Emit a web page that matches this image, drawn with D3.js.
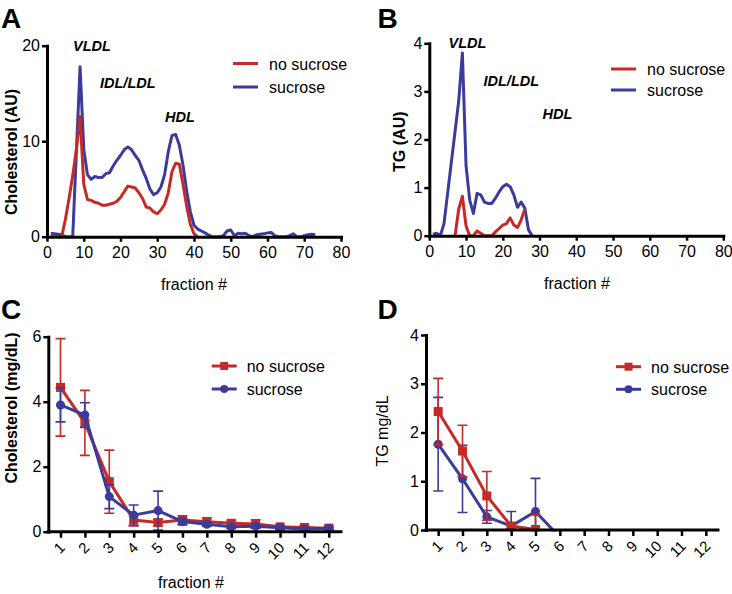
<!DOCTYPE html>
<html><head><meta charset="utf-8">
<script src="https://cdn.jsdelivr.net/npm/d3@7"></script>
<style>
body{margin:0;background:#fff;}
svg{display:block;font-family:"Liberation Sans",Arial,Helvetica,sans-serif;}
</style></head><body>
<svg id="chart" width="732" height="594"></svg>
<script>
// ---------- DATA ----------
// Panel A: cholesterol FPLC profile (AU)
const fracA_noSuc = d3.range(1, 42);
const cholA_noSuc = [0.1,0.05,0,0,1.8,4.0,6.4,9.2,12.6,5.5,3.9,3.8,3.6,3.5,3.3,3.3,3.4,3.5,3.7,4.1,4.7,5.3,5.2,5.1,4.6,4.0,3.1,3.0,2.6,2.4,2.8,3.4,4.6,6.8,7.7,7.6,5.5,3.2,1.3,0.3,0];
const fracA_suc = d3.range(1, 74);
const cholA_suc = [0.35,0.3,0.25,0.2,0,0,0,8.9,17.8,9.2,6.5,6.0,6.3,6.2,6.2,6.6,6.7,7.4,8.0,8.5,9.1,9.4,9.1,8.5,8.0,7.0,6.1,5.0,4.4,4.6,5.2,6.5,8.9,10.6,10.7,9.6,7.5,4.8,2.6,1.2,0.8,0.6,0.4,0.15,0,0,0,0.1,0.6,0.7,0.1,0.35,0.3,0.35,0.1,0,0.2,0.25,0.3,0.4,0.45,0.1,0,0,0,0.1,0.3,0,0,0.1,0.2,0.25,0.2];

// Panel B: TG FPLC profile (AU)
const fracB_noSuc = d3.range(7, 27);
const tgB_noSuc = [0,0.55,0.82,0.2,0,0,0.1,0.05,0,0,0,0.08,0.15,0.22,0.25,0.37,0.22,0.17,0.33,0.55];
const fracB_suc = d3.range(1, 29);
const tgB_suc = [0.03,0.05,0,0.25,0.89,1.53,2.16,2.8,3.8,1.45,0.74,0.46,0.88,0.85,0.7,0.67,0.67,0.78,0.91,1.02,1.07,1.02,0.85,0.59,0.7,0.57,0.12,0];

// Panels C & D: pooled fractions
const fractionCats = ["1","2","3","4","5","6","7","8","9","10","11","12"];
const cholC_noSuc    = [4.44,3.35,1.54,0.36,0.28,0.36,0.31,0.26,0.24,0.15,0.13,0.11];
const cholC_noSucErr = [1.5,1.0,0.97,0.18,0.1,0.13,0.12,0.07,0.13,0.05,0.05,0.05];
const cholC_suc      = [3.9,3.59,1.08,0.51,0.65,0.31,0.23,0.15,0.17,0.12,0.08,0.1];
const cholC_sucErr   = [0.52,0.38,0.37,0.31,0.6,0.1,0.06,0.05,0.06,0.04,0.04,0.03];

const tgD_noSuc    = [2.43,1.62,0.70,0.08,0.01];
const tgD_noSucErr = [0.68,0.53,0.5,0.05,0.3];
const tgD_suc      = [1.76,1.05,0.27,0.08,0.38,-0.15];
const tgD_sucErr   = [0.96,0.69,0.13,0.3,0.68,0];

const ticksA = [0,10,20], ticksB = [0,1,2,3,4], ticksC = [0,2,4,6], ticksD = [0,1,2,3,4];
const ticksX = [0,10,20,30,40,50,60,70,80];
const seriesNames = ["no sucrose","sucrose"];

// ---------- STYLE ----------
const RED = "#c62a26", BLUE = "#3b3b9b";
const FONT = "Liberation Sans, Arial, Helvetica, sans-serif";
const fmt = d3.format("d");
const svg = d3.select("#chart");

function styleAxis(g, fs){
  g.attr("font-family", FONT).attr("font-size", fs);
  g.select(".domain").attr("stroke","#000").attr("stroke-width",3).attr("stroke-linecap","square");
  g.selectAll(".tick line").attr("stroke","#000").attr("stroke-width",2.5);
  g.selectAll(".tick text").attr("fill","#000");
}

function text(x, y, s, opts){
  const t = svg.append("text").attr("x",x).attr("y",y).text(s).attr("fill","#000")
    .attr("font-size", opts.size || 16);
  if (opts.weight) t.attr("font-weight", opts.weight);
  if (opts.style) t.attr("font-style", opts.style);
  if (opts.anchor) t.attr("text-anchor", opts.anchor);
  return t;
}
function yTitle(x, y, s, weight){
  svg.append("text").attr("transform",`translate(${x},${y}) rotate(-90)`)
    .attr("text-anchor","middle").attr("font-size",16).attr("font-weight",weight).text(s);
}

function profilePanel(o){
  const x = d3.scaleLinear().domain([0,80]).range([o.x0,o.x1]);
  const y = d3.scaleLinear().domain([0,o.ymax]).range([o.y0,o.yt]);
  const line = d3.line().x(d=>x(d[0])).y(d=>y(d[1]));
  o.series.forEach(s=>{
    svg.append("path").datum(d3.zip(s.x, s.y)).attr("d", line)
      .attr("fill","none").attr("stroke",s.color).attr("stroke-width",3)
      .attr("stroke-linejoin","round");
  });
  const gx = svg.append("g").attr("transform",`translate(0,${o.y0})`)
    .call(d3.axisBottom(x).tickValues(ticksX).tickFormat(fmt).tickSize(5).tickSizeOuter(0).tickPadding(5));
  styleAxis(gx, 16);
  const gy = svg.append("g").attr("transform",`translate(${o.x0},0)`)
    .call(d3.axisLeft(y).tickValues(o.yticks).tickFormat(fmt).tickSize(5).tickSizeOuter(0).tickPadding(2));
  styleAxis(gy, 16);
  // legend (no sucrose first)
  o.legend.forEach((s,i)=>{
    const ly = o.ly + i*o.lgap;
    svg.append("line").attr("x1",o.lx).attr("x2",o.lx+25).attr("y1",ly).attr("y2",ly)
      .attr("stroke",s.color).attr("stroke-width",3);
    text(o.lx+36, ly+6, s.name, {size:16});
  });
}

function dotPanel(o){
  const x = d3.scalePoint().domain(fractionCats).range([o.x0,o.x1]).padding(0.5);
  const y = d3.scaleLinear().domain([0,o.ymax]).range([o.y0,o.yt]);
  const cid = "clip"+o.id;
  svg.append("clipPath").attr("id",cid).append("rect")
    .attr("x",o.x0-20).attr("y",o.yt-20).attr("width",o.x1-o.x0+40).attr("height",o.y0-o.yt+21.5);
  const plot = svg.append("g").attr("clip-path",`url(#${cid})`);
  o.series.forEach(s=>{
    const pts = s.y.map((v,i)=>({c:fractionCats[i], v, e:s.err[i]}));
    const g = plot.append("g");
    pts.forEach(p=>{
      if (!p.e) return;
      const cx = x(p.c), yt = y(p.v+p.e), yb = y(p.v-p.e);
      g.append("line").attr("x1",cx).attr("x2",cx).attr("y1",yt).attr("y2",yb)
        .attr("stroke",s.color).attr("stroke-width",1.6);
      [yt,yb].forEach(yy=>g.append("line").attr("x1",cx-5).attr("x2",cx+5).attr("y1",yy).attr("y2",yy)
        .attr("stroke",s.color).attr("stroke-width",1.6));
    });
    g.append("path").datum(pts).attr("d", d3.line().x(p=>x(p.c)).y(p=>y(p.v)))
      .attr("fill","none").attr("stroke",s.color).attr("stroke-width",3).attr("stroke-linejoin","round");
    pts.forEach(p=>{
      if (s.shape==="square") g.append("rect").attr("x",x(p.c)-4.5).attr("y",y(p.v)-4.5)
        .attr("width",9).attr("height",9).attr("fill",s.color);
      else g.append("circle").attr("cx",x(p.c)).attr("cy",y(p.v)).attr("r",4.5).attr("fill",s.color);
    });
  });
  const gx = svg.append("g").attr("transform",`translate(0,${o.y0})`)
    .call(d3.axisBottom(x).tickSize(6).tickSizeOuter(0));
  styleAxis(gx, 15);
  gx.select(".domain").attr("d",`M${o.x0},0H${o.x1}`);
  gx.selectAll(".tick text").attr("x",null).attr("y",null).attr("dy",null)
    .attr("text-anchor","end").attr("transform","translate(5,17) rotate(-45)");
  const gy = svg.append("g").attr("transform",`translate(${o.x0},0)`)
    .call(d3.axisLeft(y).tickValues(o.yticks).tickFormat(fmt).tickSize(5).tickSizeOuter(0).tickPadding(2));
  styleAxis(gy, 16);
  // legend (no sucrose first)
  o.legend.forEach((s,i)=>{
    const ly = o.ly + i*o.lgap, lx = o.lx;
    svg.append("line").attr("x1",lx).attr("x2",lx+25).attr("y1",ly).attr("y2",ly)
      .attr("stroke",s.color).attr("stroke-width",3);
    if (s.shape==="square") svg.append("rect").attr("x",lx+12.5-4).attr("y",ly-4).attr("width",8).attr("height",8).attr("fill",s.color);
    else svg.append("circle").attr("cx",lx+12.5).attr("cy",ly).attr("r",4).attr("fill",s.color);
    text(lx+35, ly+6, s.name, {size:16});
  });
}

// ---------- PANEL A ----------
const sA_suc = {name:seriesNames[1],color:BLUE,x:fracA_suc,y:cholA_suc};
const sA_no  = {name:seriesNames[0],color:RED,x:fracA_noSuc,y:cholA_noSuc};
profilePanel({x0:47,x1:341,y0:236.7,yt:45.7,ymax:20,yticks:ticksA,lx:233,ly:63.5,lgap:23.5,
  series:[sA_suc, sA_no], legend:[sA_no, sA_suc]});
text(1,28,"A",{size:28,weight:"bold"});
yTitle(16.5,152,"Cholesterol (AU)","bold");
text(194,290,"fraction #",{size:16,anchor:"middle"});
text(73,50.5,"VLDL",{size:14.5,weight:"bold",style:"italic"});
text(100,88,"IDL/LDL",{size:14.5,weight:"bold",style:"italic"});
text(165,121.5,"HDL",{size:14.5,weight:"bold",style:"italic"});

// ---------- PANEL B ----------
const sB_suc = {name:seriesNames[1],color:BLUE,x:fracB_suc,y:tgB_suc};
const sB_no  = {name:seriesNames[0],color:RED,x:fracB_noSuc,y:tgB_noSuc};
profilePanel({x0:429.3,x1:723.3,y0:235.7,yt:43.3,ymax:4,yticks:ticksB,lx:611,ly:69,lgap:21,
  series:[sB_suc, sB_no], legend:[sB_no, sB_suc]});
text(377.5,28,"B",{size:28,weight:"bold"});
yTitle(405,141.7,"TG (AU)","bold");
text(577,289,"fraction #",{size:16,anchor:"middle"});
text(448.5,48.3,"VLDL",{size:14.5,weight:"bold",style:"italic"});
text(483.5,85.7,"IDL/LDL",{size:14.5,weight:"bold",style:"italic"});
text(542.5,119,"HDL",{size:14.5,weight:"bold",style:"italic"});

// ---------- PANEL C ----------
const sC_no  = {name:seriesNames[0],color:RED,shape:"square",y:cholC_noSuc,err:cholC_noSucErr};
const sC_suc = {name:seriesNames[1],color:BLUE,shape:"circle",y:cholC_suc,err:cholC_sucErr};
dotPanel({id:"C",x0:48.3,x1:341,y0:531.7,yt:336.7,ymax:6,yticks:ticksC,lx:211.7,ly:366,lgap:23,
  series:[sC_no, sC_suc], legend:[sC_no, sC_suc]});
text(1,319,"C",{size:28,weight:"bold"});
yTitle(16.5,408,"Cholesterol (mg/dL)","bold");
text(191,588,"fraction #",{size:16,anchor:"middle"});

// ---------- PANEL D ----------
const sD_no  = {name:seriesNames[0],color:RED,shape:"square",y:tgD_noSuc,err:tgD_noSucErr};
const sD_suc = {name:seriesNames[1],color:BLUE,shape:"circle",y:tgD_suc,err:tgD_sucErr};
dotPanel({id:"D",x0:426,x1:718,y0:530,yt:335,ymax:4,yticks:ticksD,lx:616,ly:366.7,lgap:22.6,
  series:[sD_suc, sD_no], legend:[sD_no, sD_suc]});
text(377.5,319,"D",{size:28,weight:"bold"});
yTitle(388,431,"TG mg/dL","normal");
</script>
</body></html>
